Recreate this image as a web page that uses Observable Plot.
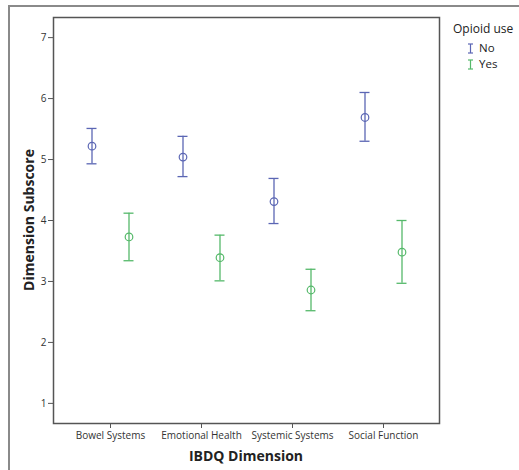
<!DOCTYPE html>
<html>
<head>
<meta charset="utf-8">
<script src="https://cdn.jsdelivr.net/npm/d3@7"></script>
<script src="https://cdn.jsdelivr.net/npm/@observablehq/plot@0.6"></script>
<style>
  html, body { margin: 0; padding: 0; background: #fff; }
  #wrap { position: relative; width: 519px; height: 470px; overflow: hidden; font-family: "Open Sans", sans-serif; color: #222; }
  #border { position: absolute; left: 8px; top: 5px; width: 600px; height: 600px; border-top: 2px solid #8a8a8a; border-left: 2px solid #8a8a8a; }
  #chart { position: absolute; left: 0; top: 0; }
  .ytitle { position: absolute; left: 28px; top: 220px; transform: translate(-50%, -50%) rotate(-90deg); font-weight: bold; font-size: 14px; white-space: nowrap; }
  .xtitle { position: absolute; left: 246px; top: 455px; transform: translate(-50%, -50%); font-weight: bold; font-size: 14px; white-space: nowrap; }
  .legend { position: absolute; left: 453px; top: 20px; font-size: 12px; }
  .legend .title { height: 18px; line-height: 18px; margin-bottom: 2px; }
  .legend .item { display: flex; align-items: center; height: 16px; line-height: 16px; margin-left: 14px; font-size: 11.5px; }
  .legend svg { margin-right: 5px; }
</style>
</head>
<body>
<div id="wrap">
  <div id="border"></div>
  <div id="chart"></div>
  <div class="ytitle">Dimension Subscore</div>
  <div class="xtitle">IBDQ Dimension</div>
  <div class="legend" id="legend">
    <div class="title">Opioid use</div>
  </div>
</div>
<script>
const categories = ["Bowel Systems", "Emotional Health", "Systemic Systems", "Social Function"];
const groups = ["No", "Yes"];
const colors = ["#5b66b4", "#55b96a"];
const yTicks = [1, 2, 3, 4, 5, 6, 7];
const meanNo  = [5.22, 5.04, 4.31, 5.69];
const lowNo   = [4.93, 4.72, 3.95, 5.30];
const highNo  = [5.51, 5.38, 4.69, 6.10];
const meanYes = [3.73, 3.39, 2.86, 3.48];
const lowYes  = [3.34, 3.01, 2.52, 2.97];
const highYes = [4.12, 3.76, 3.20, 4.00];

const data = [];
categories.forEach((c, i) => {
  data.push({cat: c, group: "No", mean: meanNo[i], low: lowNo[i], high: highNo[i]});
  data.push({cat: c, group: "Yes", mean: meanYes[i], low: lowYes[i], high: highYes[i]});
});
const off = 18.5;

function groupMarks(g, k) {
  const d = data.filter(r => r.group === g);
  const dx = k === 0 ? -off : off;
  const col = colors[k];
  return [
    Plot.ruleX(d, {x: "cat", y1: "low", y2: "high", stroke: col, strokeWidth: 1.3, dx}),
    Plot.ruleY(d, {x1: "cat", x2: "cat", y: "low", stroke: col, strokeWidth: 1.3, dx, insetLeft: -5, insetRight: -5}),
    Plot.ruleY(d, {x1: "cat", x2: "cat", y: "high", stroke: col, strokeWidth: 1.3, dx, insetLeft: -5, insetRight: -5}),
    Plot.dot(d, {x: "cat", y: "mean", stroke: col, r: 3.8, strokeWidth: 1.2, fill: "none", dx})
  ];
}

const plot = Plot.plot({
  width: 519,
  height: 470,
  marginLeft: 53,
  marginTop: 17,
  marginRight: 80,
  marginBottom: 47,
  style: {fontFamily: "Open Sans, sans-serif", fontSize: "10px", color: "#333", background: "transparent"},
  x: {type: "point", domain: categories, padding: 0.62},
  y: {domain: [0.67, 7.33]},
  marks: [
    Plot.frame({stroke: "#555", strokeWidth: 1.5}),
    Plot.axisY(yTicks, {tickSize: 5, tickPadding: 2, label: null, tickFormat: d3.format("d"), stroke: "#555", fill: "#333"}),
    Plot.axisX(categories, {tickSize: 5, tickPadding: 3, label: null, stroke: "#555", fill: "#333"}),
    ...groupMarks("No", 0),
    ...groupMarks("Yes", 1)
  ]
});
document.getElementById("chart").appendChild(plot);

const legend = document.getElementById("legend");
groups.forEach((g, k) => {
  const item = document.createElement("div");
  item.className = "item";
  item.innerHTML = `<svg width="7" height="11"><line x1="1" x2="6" y1="1" y2="1" stroke="${colors[k]}" stroke-width="1.2"/><line x1="3.5" x2="3.5" y1="1" y2="10" stroke="${colors[k]}" stroke-width="1.2"/><line x1="1" x2="6" y1="10" y2="10" stroke="${colors[k]}" stroke-width="1.2"/></svg><span>${g}</span>`;
  legend.appendChild(item);
});
</script>
</body>
</html>
